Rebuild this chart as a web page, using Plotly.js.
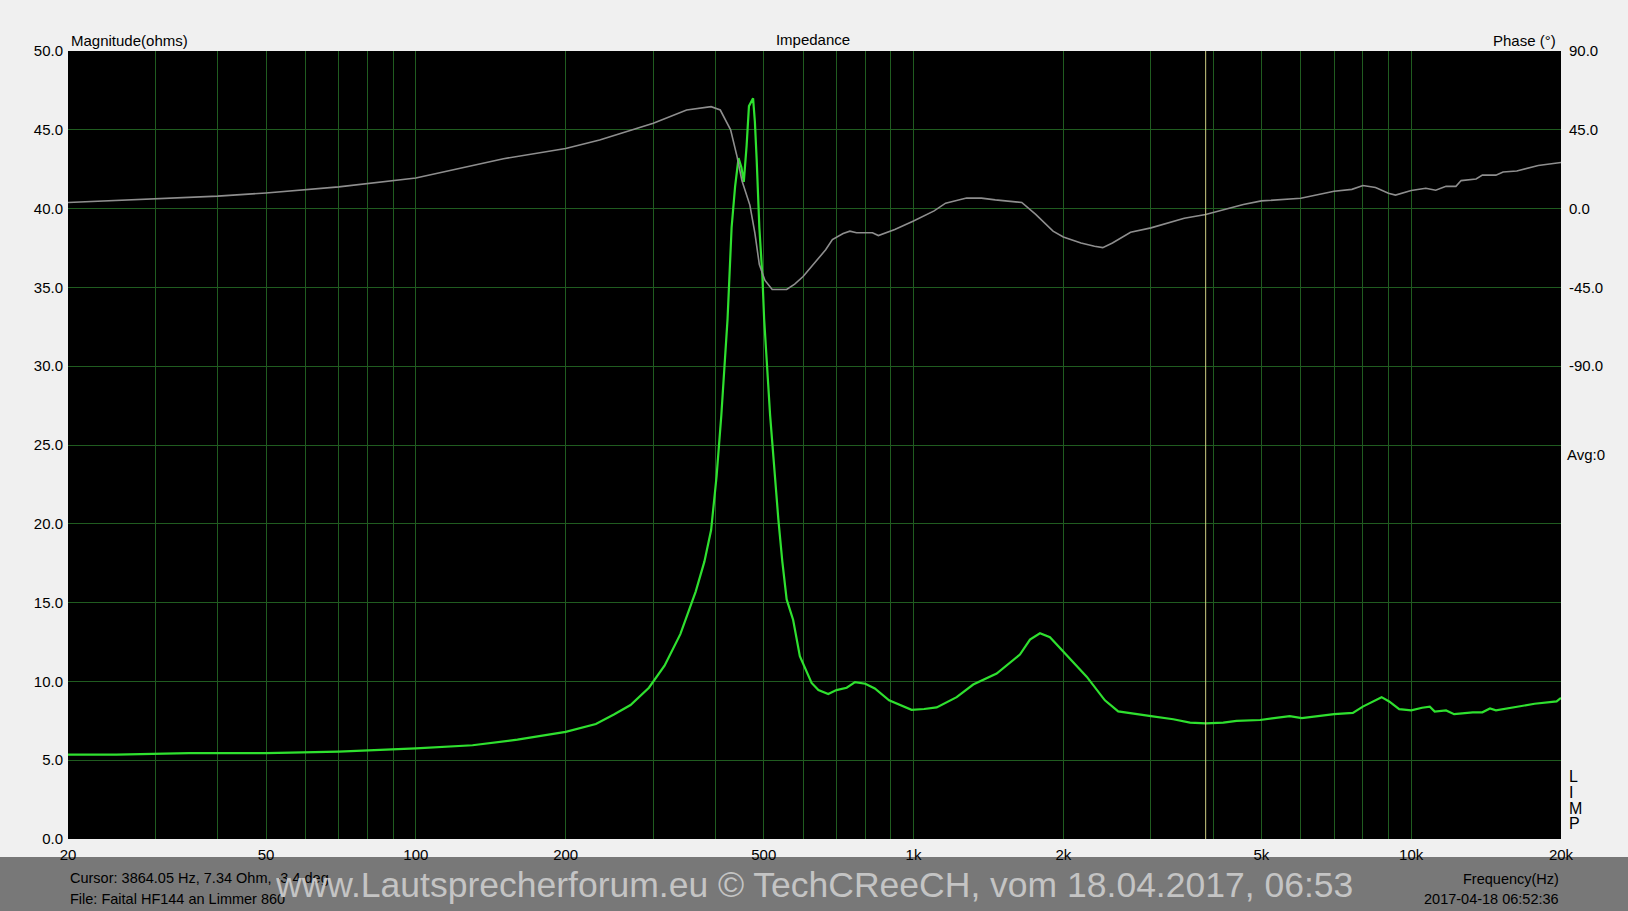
<!DOCTYPE html>
<html>
<head>
<meta charset="utf-8">
<script src="https://cdn.plot.ly/plotly-3.0.1.min.js"></script>
<style>
html,body{margin:0;padding:0;background:#f0f0f0;}
#chart{width:1628px;height:911px;}
</style>
</head>
<body>
<div id="chart"></div>
<script>
// Impedance magnitude (ohms) vs frequency (Hz)
const magFreq = [20,25,35,50,70,100,130,160,200,230,250,270,294,316,340,365,380,392,402,411,423,431,438,445,451,456,462,467,476,480,484,490,497,501,515,525,535,545,556,573,591,624,644,674,700,734,763,800,836,893,954,991,1050,1113,1221,1318,1469,1636,1714,1795,1880,2000,2228,2424,2578,3000,3326,3594,3864,4192,4458,4970,5700,6030,7000,7635,7995,8720,9030,9460,10000,10520,10900,11150,11750,12200,13300,13900,14400,14800,16100,17700,19600,20000];
const magOhm = [5.35,5.35,5.45,5.45,5.55,5.75,5.95,6.3,6.8,7.3,7.9,8.5,9.6,11.0,13.0,15.7,17.6,19.6,23.0,26.9,33.0,38.8,41.4,43.2,42.6,41.7,44.0,46.5,47.0,45.5,43.1,38.8,35.7,33.0,26.9,23.4,20.3,17.6,15.2,13.9,11.6,9.9,9.45,9.2,9.45,9.6,9.95,9.85,9.55,8.8,8.45,8.2,8.25,8.35,9.0,9.8,10.5,11.7,12.65,13.05,12.8,11.9,10.3,8.8,8.1,7.8,7.6,7.38,7.34,7.38,7.5,7.55,7.8,7.67,7.92,8.0,8.4,9.0,8.73,8.24,8.16,8.33,8.4,8.09,8.16,7.92,8.04,8.04,8.28,8.16,8.36,8.58,8.73,8.95];

// Impedance phase (degrees) vs frequency (Hz)
const phFreq = [20,30,40,50,70,100,150,200,234,300,350,392,409,429,442,452,469,480,490,503,520,556,577,600,637,666,687,722,745,768,827,850,917,1000,1100,1160,1278,1369,1460,1574,1650,1760,1907,2000,2170,2310,2400,2510,2730,3000,3250,3500,3864,4300,4600,5000,6000,7000,7600,8000,8480,9000,9300,10000,10700,11200,11750,12300,12600,13500,13900,14800,15300,16300,17400,18000,20000];
const phDeg = [3.5,5.5,7.1,8.9,12.4,17.5,28.5,34.3,39.2,48.7,56.3,58.2,56.3,45,29.7,16,2,-14,-32,-41,-46.2,-46.2,-43.1,-38.8,-30.2,-23.5,-17.7,-14.2,-12.9,-13.8,-13.8,-15.4,-11.9,-7.1,-1.3,3.1,6,6,5,4.2,3.5,-3.3,-12.9,-16.2,-19.6,-21.5,-22.3,-19.6,-13.5,-11,-8.1,-5.5,-3.4,0,2.3,4.4,5.9,9.9,11,13.2,12.1,8.8,7.7,10.3,11.6,10.5,12.7,12.7,16,16.9,19.1,19.1,20.9,21.5,23.7,24.6,26.3];

// Cursor
const cursorFreq = [3864.05];

// Axis ticks
const gridFreqs = [20,30,40,50,60,70,80,90,100,200,300,400,500,600,700,800,900,1000,2000,3000,4000,5000,6000,7000,8000,9000,10000,20000];
const labelMap = {20:'20',50:'50',100:'100',200:'200',500:'500',1000:'1k',2000:'2k',5000:'5k',10000:'10k',20000:'20k'};
const xTickText = gridFreqs.map(f => labelMap[f] || '');
const magTicks = [0,5,10,15,20,25,30,35,40,45,50];
const magTickText = magTicks.map(v => v.toFixed(1));
const phTicks = [90,45,0,-45,-90];
const phTickText = phTicks.map(v => v.toFixed(1));

const FONT = 'Liberation Sans, Arial, sans-serif';
const GRID = 'rgb(32,92,32)';
const FS = 15;
const FSB = 14.5;

const traces = [
  {x: phFreq, y: phDeg, yaxis: 'y2', type: 'scatter', mode: 'lines',
   line: {color: '#8e8e8e', width: 1.6}, hoverinfo: 'skip', name: 'Phase'},
  {x: magFreq, y: magOhm, type: 'scatter', mode: 'lines',
   line: {color: '#2fe02f', width: 2.2}, hoverinfo: 'skip', name: 'Magnitude'}
];

const W = 1628, H = 911;
const L = 68, R = 1561, T = 51, B = 839;
const pw = R - L, ph = B - T;

const layout = {
  width: W, height: H,
  paper_bgcolor: '#f0f0f0',
  plot_bgcolor: '#000000',
  showlegend: false,
  margin: {l: L, r: W - R, t: T, b: H - B, pad: 0},
  font: {family: FONT, size: FS, color: '#000'},
  title: {text: 'Impedance', font: {family: FONT, size: FS, color: '#000'},
          xref: 'container', yref: 'container', x: 813/W, y: 1 - 39.5/H,
          xanchor: 'center', yanchor: 'middle'},
  xaxis: {type: 'log', range: [Math.log10(20), Math.log10(20000)],
          tickmode: 'array', tickvals: gridFreqs, ticktext: xTickText,
          showgrid: true, gridcolor: GRID, gridwidth: 1, zeroline: false,
          ticks: '', showline: false, tickfont: {size: FS, family: FONT},
          ticklabelstandoff: 5, fixedrange: true},
  yaxis: {range: [0, 50], tickmode: 'array', tickvals: magTicks, ticktext: magTickText,
          showgrid: true, gridcolor: GRID, gridwidth: 1, zeroline: false,
          ticks: '', showline: false, tickfont: {size: FS, family: FONT},
          ticklabelstandoff: 4, fixedrange: true},
  yaxis2: {range: [-360, 90], overlaying: 'y', side: 'right',
           tickmode: 'array', tickvals: phTicks, ticktext: phTickText,
           showgrid: false, zeroline: false, ticks: '', showline: false,
           tickfont: {size: FS, family: FONT}, ticklabelstandoff: 7, fixedrange: true},
  shapes: [
    {type: 'rect', xref: 'paper', yref: 'paper', layer: 'below',
     x0: -L/pw, x1: (W - L)/pw, y0: -(H - B)/ph, y1: -(857 - B)/ph,
     fillcolor: '#787878', line: {width: 0}},
    {type: 'line', xref: 'x', yref: 'paper', x0: cursorFreq[0], x1: cursorFreq[0], y0: 0, y1: 1,
     line: {color: 'rgb(205,205,130)', width: 1}}
  ],
  annotations: [
    {text: 'Magnitude(ohms)', xref: 'paper', yref: 'paper', x: (69 - L)/pw, y: 1 + (T - 40)/ph,
     xanchor: 'left', yanchor: 'middle', showarrow: false, font: {size: FS}},
    {text: 'Phase (°)', xref: 'paper', yref: 'paper', x: (1558 - L)/pw, y: 1 + (T - 40)/ph,
     xanchor: 'right', yanchor: 'middle', showarrow: false, font: {size: FS}},
    {text: 'Avg:0', xref: 'paper', yref: 'paper', x: (1565 - L)/pw, y: (B - 454)/ph,
     xanchor: 'left', yanchor: 'middle', showarrow: false, font: {size: FS}},
    {text: 'L', xref: 'paper', yref: 'paper', x: (1567 - L)/pw, y: (B - 776)/ph,
     xanchor: 'left', yanchor: 'middle', showarrow: false, font: {size: 16}},
    {text: 'I', xref: 'paper', yref: 'paper', x: (1567 - L)/pw, y: (B - 792)/ph,
     xanchor: 'left', yanchor: 'middle', showarrow: false, font: {size: 16}},
    {text: 'M', xref: 'paper', yref: 'paper', x: (1567 - L)/pw, y: (B - 808)/ph,
     xanchor: 'left', yanchor: 'middle', showarrow: false, font: {size: 16}},
    {text: 'P', xref: 'paper', yref: 'paper', x: (1567 - L)/pw, y: (B - 823.5)/ph,
     xanchor: 'left', yanchor: 'middle', showarrow: false, font: {size: 16}},
    {text: 'Cursor: 3864.05 Hz, 7.34 Ohm, -3.4 deg', xref: 'paper', yref: 'paper',
     x: 0, y: -(878 - B)/ph, xanchor: 'left', yanchor: 'middle', showarrow: false, font: {size: FSB}},
    {text: 'File: Faital HF144 an Limmer 860', xref: 'paper', yref: 'paper',
     x: 0, y: -(899 - B)/ph, xanchor: 'left', yanchor: 'middle', showarrow: false, font: {size: FSB}},
    {text: 'www.Lautsprecherforum.eu © TechCReeCH, vom 18.04.2017, 06:53', xref: 'paper', yref: 'paper',
     x: (814 - L)/pw, y: -(885 - B)/ph, xanchor: 'center', yanchor: 'middle', showarrow: false,
     font: {size: 35.5, color: '#c4c4c4'}},
    {text: 'Frequency(Hz)', xref: 'paper', yref: 'paper',
     x: 1, y: -(879 - B)/ph, xanchor: 'right', yanchor: 'middle', showarrow: false, font: {size: FSB}},
    {text: '2017-04-18 06:52:36', xref: 'paper', yref: 'paper',
     x: 1, y: -(899 - B)/ph, xanchor: 'right', yanchor: 'middle', showarrow: false, font: {size: FSB}}
  ]
};

Plotly.newPlot('chart', traces, layout, {displayModeBar: false, staticPlot: true});
</script>
</body>
</html>
